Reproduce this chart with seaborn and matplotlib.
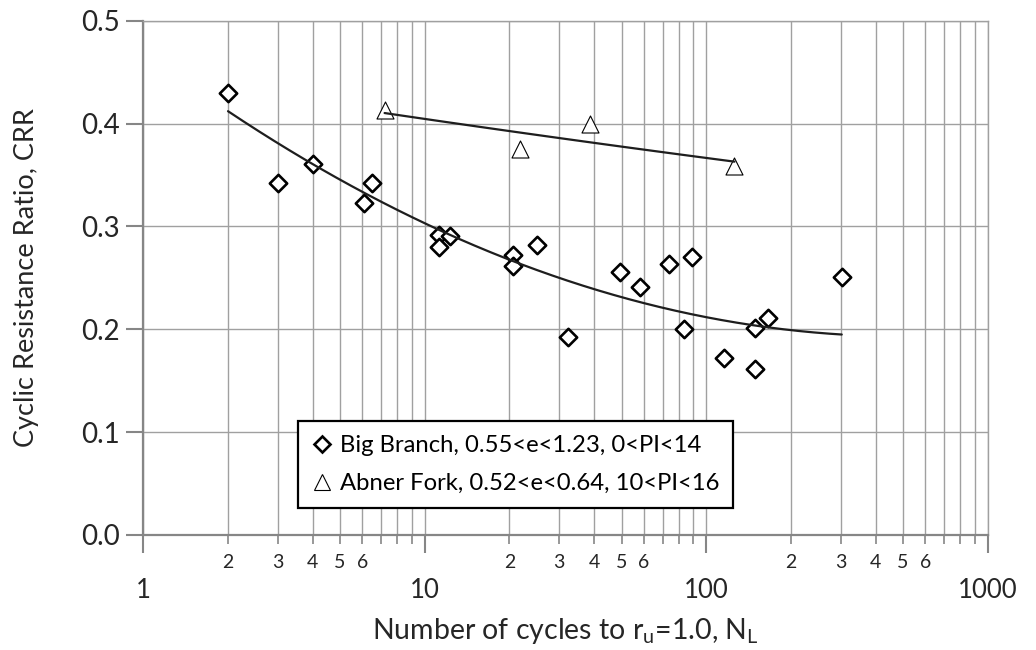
import numpy as np
import matplotlib
matplotlib.use("Agg")
import matplotlib.pyplot as plt
import seaborn as sns
from matplotlib.ticker import FixedLocator, FuncFormatter
from matplotlib.lines import Line2D

# ---------------- data ----------------
bb_n = [2.0, 3.0, 4.0, 6.1, 6.5, 11.2, 11.2, 12.3, 20.6, 20.6, 25.0, 32.3,
        49.3, 58.2, 73.9, 88.7, 83.6, 115.5, 149.0, 149.0, 166.0, 303.0]
bb_crr = [0.430, 0.342, 0.361, 0.323, 0.342, 0.292, 0.280, 0.291, 0.272, 0.261,
          0.282, 0.192, 0.256, 0.241, 0.263, 0.270, 0.200, 0.172, 0.201, 0.161,
          0.211, 0.251]
af_n = [7.2, 21.8, 38.6, 126.0]
af_crr = [0.413, 0.375, 0.400, 0.359]

# Big Branch trend curve: CRR = a + b ln N + c (ln N)^2
bb_trend_coef = [0.00717, -0.0892, 0.4704]

bb_label = "Big Branch, 0.55<e<1.23, 0<PI<14"
af_label = "Abner Fork, 0.52<e<0.64, 10<PI<16"
x_label = r"Number of cycles to r$_\mathregular{u}$=1.0, N$_\mathregular{L}$"
y_label = "Cyclic Resistance Ratio, CRR"
y_ticks = [0.0, 0.1, 0.2, 0.3, 0.4, 0.5]
x_major = [1, 10, 100, 1000]
x_minor_digits = [2, 3, 4, 5, 6, 7, 8, 9]
x_minor_labeled = [2, 3, 4, 5, 6]

# ---------------- style ----------------
sns.set_theme(style="white")
plt.rcParams['font.family'] = ['Lato', 'DejaVu Sans']
plt.rcParams['mathtext.fontset'] = 'custom'
plt.rcParams['mathtext.rm'] = 'Lato'
plt.rcParams['mathtext.it'] = 'Lato'
plt.rcParams['text.color'] = 'black'

GRID = '#a0a0a0'
AXIS = '#868686'

fig = plt.figure(figsize=(10.36, 6.5), dpi=100)
ax = fig.add_axes([0.1383, 0.1772, 0.8151, 0.7909])

# trend lines
xs_bb = np.geomspace(min(bb_n), max(bb_n), 200)
ys_bb = np.polyval(bb_trend_coef, np.log(xs_bb))

c_af = np.polyfit(np.log(np.array(af_n)), np.log(np.array(af_crr)), 1)
xs_af = np.geomspace(min(af_n), max(af_n), 100)
ys_af = np.exp(np.polyval(c_af, np.log(xs_af)))

sns.scatterplot(x=bb_n, y=bb_crr, marker='D', s=78, color='white',
                edgecolor='black', linewidth=1.9, ax=ax, zorder=3)
sns.scatterplot(x=af_n, y=af_crr, marker='^', s=150, color='white',
                edgecolor='black', linewidth=0.8, ax=ax, zorder=3)
sns.lineplot(x=xs_bb, y=ys_bb, color='#1e1e1e', lw=1.6, ax=ax, zorder=4,
             sort=False, estimator=None)
sns.lineplot(x=xs_af, y=ys_af, color='#1e1e1e', lw=1.6, ax=ax, zorder=4,
             sort=False, estimator=None)

ax.set_xscale('log')
ax.set_xlim(1, 1000)
ax.set_ylim(0, 0.5)

ax.xaxis.set_major_locator(FixedLocator(x_major))
ax.xaxis.set_major_formatter(FuncFormatter(lambda v, p: f"{int(round(v))}"))
minor_pos = [d * 10 ** k for k in range(3) for d in x_minor_digits]
ax.xaxis.set_minor_locator(FixedLocator(minor_pos))


def minor_fmt(v, p):
    d = int(round(v / 10 ** np.floor(np.log10(v) + 1e-9)))
    return str(d) if d in x_minor_labeled else ""


ax.xaxis.set_minor_formatter(FuncFormatter(minor_fmt))
ax.yaxis.set_major_locator(FixedLocator(y_ticks))
ax.yaxis.set_major_formatter(FuncFormatter(lambda v, p: f"{v:.1f}"))

ax.set_axisbelow(True)
ax.grid(which='both', axis='x', color=GRID, lw=1.0)
ax.grid(which='major', axis='y', color=GRID, lw=1.0)

for side in ['top', 'right']:
    ax.spines[side].set_color(GRID)
    ax.spines[side].set_linewidth(1.0)
for side in ['left', 'bottom']:
    ax.spines[side].set_color(AXIS)
    ax.spines[side].set_linewidth(1.6)

ax.tick_params(axis='x', which='major', direction='out', length=13, width=1.5,
               color=AXIS, labelsize=18.5, pad=18, bottom=True)
ax.tick_params(axis='x', which='minor', direction='out', length=6.5, width=1.2,
               color=AXIS, labelsize=14, pad=7, bottom=True)
ax.tick_params(axis='y', which='major', direction='out', length=12, width=1.5,
               color=AXIS, labelsize=20, pad=5, left=True)

ax.set_xlabel(x_label, fontsize=20.5)
ax.set_ylabel(y_label, fontsize=19.5)
ax.xaxis.set_label_coords(0.5, -0.158)
ax.yaxis.set_label_coords(-0.124, 0.5)

handles = [
    Line2D([], [], marker='D', ls='none', markersize=8, mfc='white',
           mec='black', mew=1.9),
    Line2D([], [], marker='^', ls='none', markersize=12, mfc='white',
           mec='black', mew=0.8),
]
leg = ax.legend(handles, [bb_label, af_label], loc='upper left',
                bbox_to_anchor=(0.1829, 0.2214), borderaxespad=0,
                fontsize=17.2, frameon=True, fancybox=False, framealpha=1,
                edgecolor='black', borderpad=0.6, handlelength=0.8,
                handletextpad=0.35, labelspacing=0.7)
leg.get_frame().set_linewidth(1.6)
leg.set_zorder(5)

fig.savefig('out.png', dpi=100, facecolor='white')
